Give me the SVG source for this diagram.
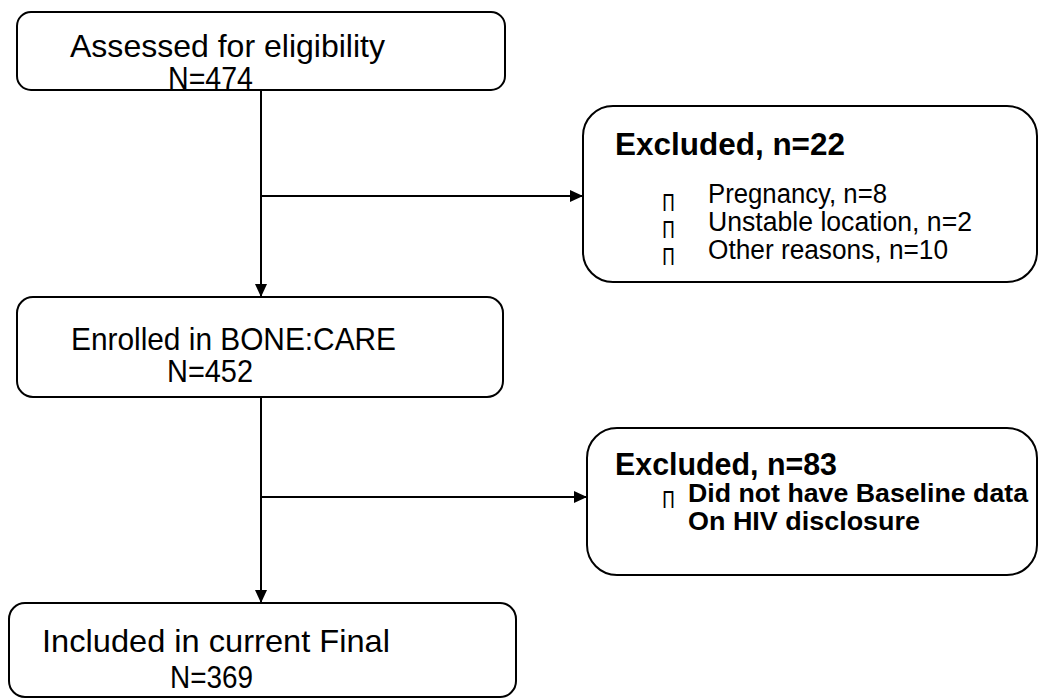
<svg xmlns="http://www.w3.org/2000/svg" width="1040" height="700" viewBox="0 0 1040 700">
<style>
.box{fill:#fff;stroke:#000;stroke-width:2}
.t{font-family:"Liberation Sans",Arial,sans-serif;font-size:32px;fill:#000}
.tb{font-family:"Liberation Sans",Arial,sans-serif;font-size:31px;font-weight:bold;fill:#000}
.s{font-family:"Liberation Sans",Arial,sans-serif;font-size:27px;fill:#000}
.sb{font-family:"Liberation Sans",Arial,sans-serif;font-size:26px;font-weight:bold;fill:#000}
.bul{font-family:"DejaVu Sans",sans-serif;font-size:23px;fill:#000}
.c{stroke:#000;stroke-width:2;fill:none}
</style>
<defs>
<marker id="arr" markerWidth="13" markerHeight="14" refX="13" refY="7" orient="auto" markerUnits="userSpaceOnUse">
<path d="M0,1 L13,7 L0,13 Z" fill="#000"/>
</marker>
</defs>
<g id="connectors">
<line class="c" x1="261" y1="90" x2="261" y2="297" marker-end="url(#arr)"/>
<line class="c" x1="261" y1="196" x2="583" y2="196" marker-end="url(#arr)"/>
<line class="c" x1="261" y1="397" x2="261" y2="603" marker-end="url(#arr)"/>
<line class="c" x1="261" y1="497" x2="587" y2="497" marker-end="url(#arr)"/>
</g>
<g id="assessed">
<rect class="box" x="17" y="12" width="488" height="78" rx="14"/>
<text class="t" x="70" y="57" textLength="315" lengthAdjust="spacingAndGlyphs">Assessed for eligibility</text>
<text class="t" x="168" y="89" textLength="85" lengthAdjust="spacingAndGlyphs">N=474</text>
</g>
<g id="excluded1">
<rect class="box" x="583" y="106" width="454" height="176" rx="30"/>
<text class="tb" x="615" y="155" textLength="230" lengthAdjust="spacingAndGlyphs">Excluded, n=22</text>
<text class="bul" x="662" y="211" textLength="13" lengthAdjust="spacingAndGlyphs">Π</text>
<text class="s" x="708" y="203" textLength="179" lengthAdjust="spacingAndGlyphs">Pregnancy, n=8</text>
<text class="bul" x="662" y="238" textLength="13" lengthAdjust="spacingAndGlyphs">Π</text>
<text class="s" x="708" y="231" textLength="264" lengthAdjust="spacingAndGlyphs">Unstable location, n=2</text>
<text class="bul" x="662" y="265" textLength="13" lengthAdjust="spacingAndGlyphs">Π</text>
<text class="s" x="708" y="259" textLength="240" lengthAdjust="spacingAndGlyphs">Other reasons, n=10</text>
</g>
<g id="enrolled">
<rect class="box" x="17" y="297" width="486" height="100" rx="16"/>
<text class="t" x="71" y="350" textLength="325" lengthAdjust="spacingAndGlyphs">Enrolled in BONE:CARE</text>
<text class="t" x="167" y="382" textLength="86" lengthAdjust="spacingAndGlyphs">N=452</text>
</g>
<g id="excluded2">
<rect class="box" x="587" y="428" width="450" height="147" rx="30"/>
<text class="tb" x="615" y="475" textLength="222" lengthAdjust="spacingAndGlyphs">Excluded, n=83</text>
<text class="bul" x="662" y="508" textLength="13" lengthAdjust="spacingAndGlyphs">Π</text>
<text class="sb" x="688" y="502" textLength="340" lengthAdjust="spacingAndGlyphs">Did not have Baseline data</text>
<text class="sb" x="688" y="530" textLength="232" lengthAdjust="spacingAndGlyphs">On HIV disclosure</text>
</g>
<g id="included">
<rect class="box" x="9" y="603" width="507" height="94" rx="16"/>
<text class="t" x="42" y="652" textLength="348" lengthAdjust="spacingAndGlyphs">Included in current Final</text>
<text class="t" x="170" y="688" textLength="83" lengthAdjust="spacingAndGlyphs">N=369</text>
</g>
</svg>
